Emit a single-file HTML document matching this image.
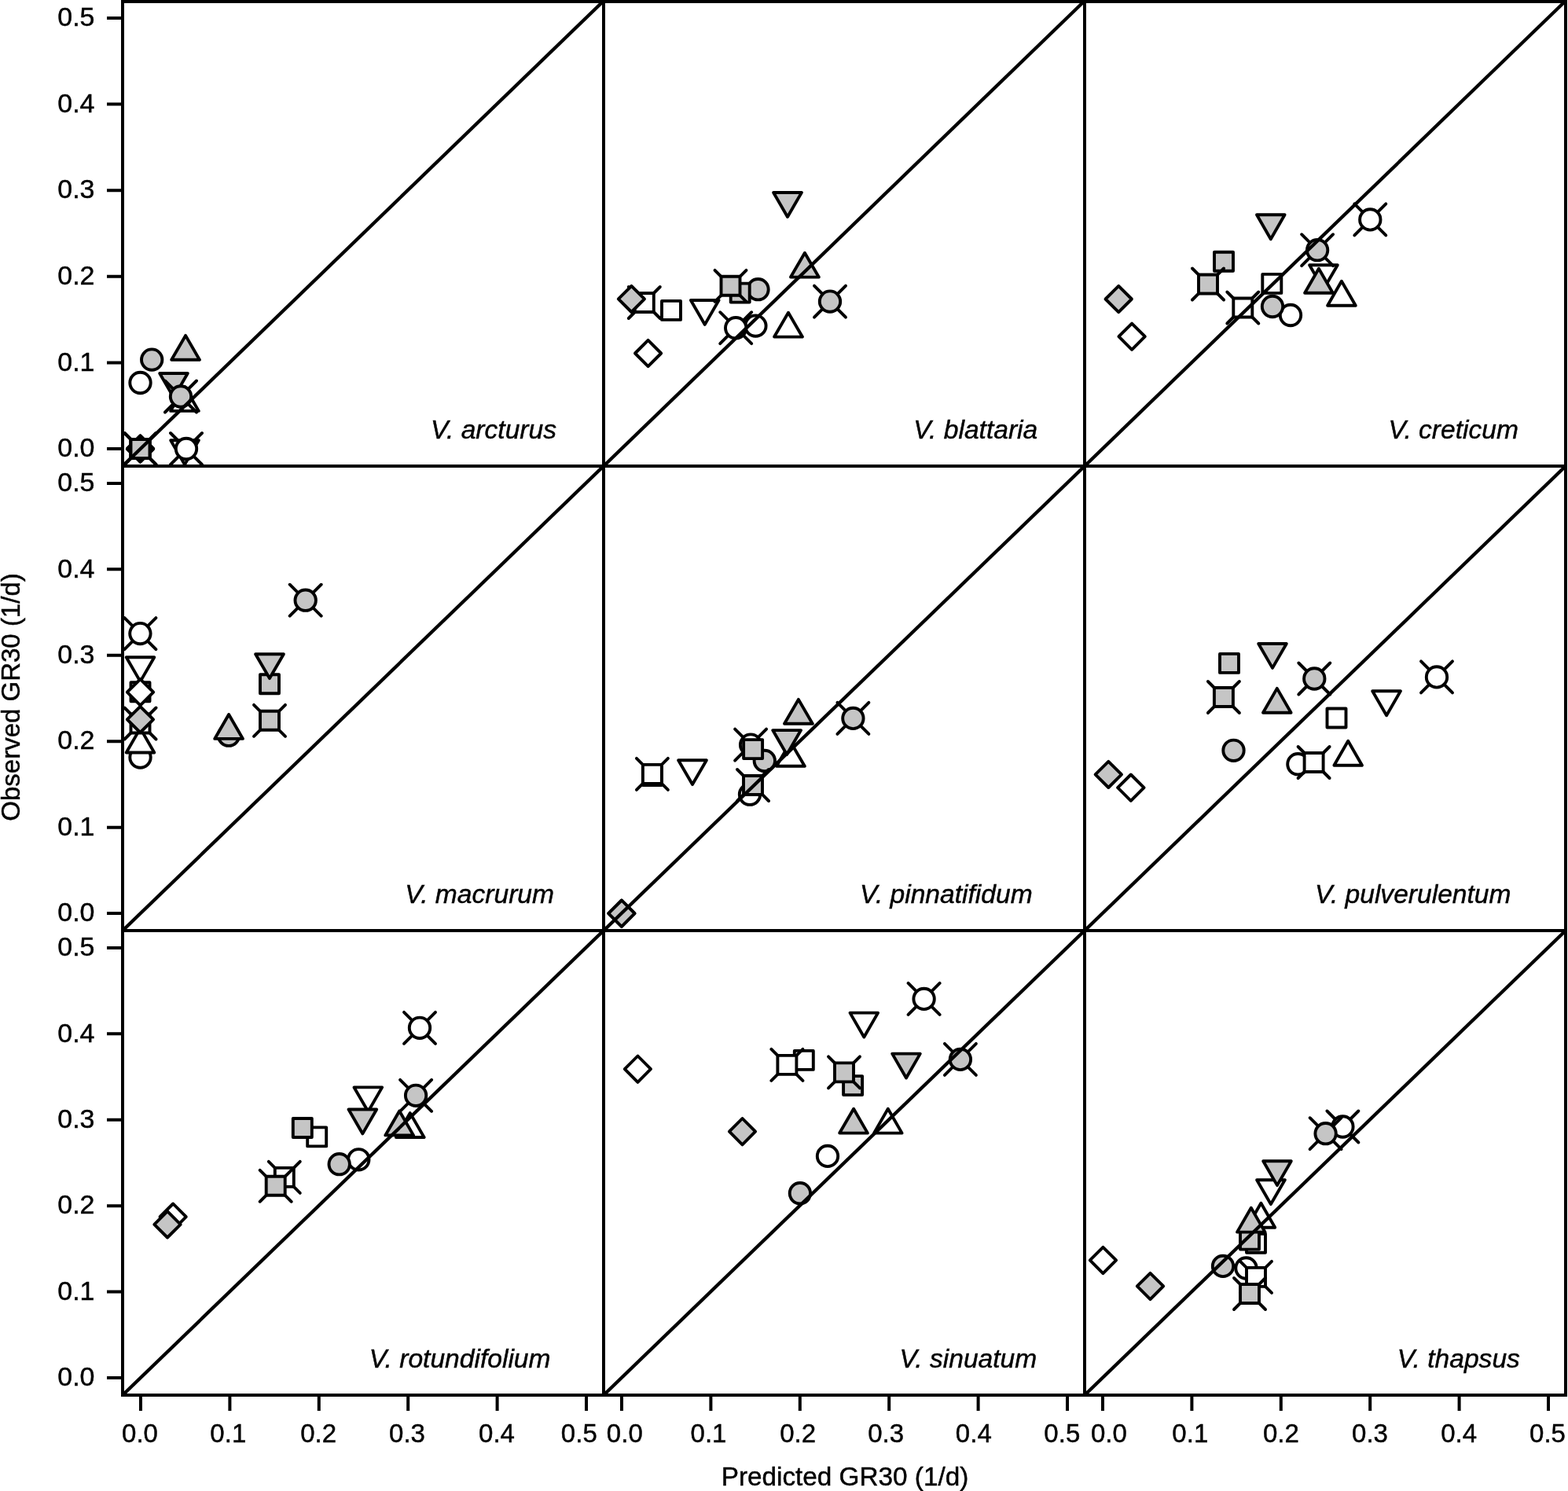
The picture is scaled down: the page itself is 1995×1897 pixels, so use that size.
<!DOCTYPE html>
<html><head><meta charset="utf-8"><title>Observed vs predicted GR30</title>
<style>
html,body{margin:0;padding:0;background:#fff;}
svg{display:block;}
.mk circle,.mk rect,.mk path{stroke:#000;stroke-width:3.9;stroke-linejoin:round;}
.mk path.x{fill:none;stroke-linecap:round;}
text{font-family:"Liberation Sans",Arial,Helvetica,sans-serif;font-size:33px;fill:#000;stroke:#000;stroke-width:0.45px;}
.sp{font-style:italic;font-size:33.6px;}
</style></head><body>
<svg width="1995" height="1897" viewBox="0 0 1995 1897">
<rect width="1995" height="1897" fill="#fff"/>
<defs>
<clipPath id="p00"><rect x="156" y="1.1" width="612" height="591.9"/></clipPath>
<clipPath id="p01"><rect x="768" y="1.1" width="612" height="591.9"/></clipPath>
<clipPath id="p02"><rect x="1380" y="1.1" width="612" height="591.9"/></clipPath>
<clipPath id="p10"><rect x="156" y="593" width="612" height="591"/></clipPath>
<clipPath id="p11"><rect x="768" y="593" width="612" height="591"/></clipPath>
<clipPath id="p12"><rect x="1380" y="593" width="612" height="591"/></clipPath>
<clipPath id="p20"><rect x="156" y="1184" width="612" height="591"/></clipPath>
<clipPath id="p21"><rect x="768" y="1184" width="612" height="591"/></clipPath>
<clipPath id="p22"><rect x="1380" y="1184" width="612" height="591"/></clipPath>
</defs>
<g clip-path="url(#p00)">
<g class="mk"><path d="M235 591.1L252.8 560.2L217.2 560.2Z" fill="#fff"/><circle cx="178.5" cy="487" r="13.2" fill="#fff"/><path d="M234.9 492L252.8 522.9L217.1 522.9Z" fill="#fff"/><path class="x" d="M217 551L257 591M217 591L257 551"/><circle cx="237" cy="571" r="13.2" fill="#fff"/><circle cx="193.2" cy="457.6" r="13.2" fill="#c5c5c5"/><rect x="166.5" y="559" width="24" height="24" fill="#fff"/><path class="x" d="M158.5 551L198.5 591M158.5 591L198.5 551"/><rect x="166.5" y="559" width="24" height="24" fill="#fff"/><path d="M178.5 554.4L195.2 571L178.5 587.6L161.8 571Z" fill="#fff"/><path d="M178.5 554.4L195.2 571L178.5 587.6L161.8 571Z" fill="#c5c5c5"/><rect x="166.5" y="559" width="24" height="24" fill="#c5c5c5"/><path class="x" d="M158.5 551L198.5 591M158.5 591L198.5 551"/><rect x="166.5" y="559" width="24" height="24" fill="#c5c5c5"/><path d="M221 505.9L238.8 475L203.2 475Z" fill="#c5c5c5"/><path d="M236.1 426.9L253.9 457.8L218.2 457.8Z" fill="#c5c5c5"/><path class="x" d="M210 484.5L250 524.5M210 524.5L250 484.5"/><circle cx="230" cy="504.5" r="13.2" fill="#c5c5c5"/></g>
<line x1="156" y1="593" x2="768" y2="1.1" stroke="#000" stroke-width="4.3"/>
</g>
<text class="sp" x="548.1" y="557.9">V. arcturus</text>
<g clip-path="url(#p01)">
<g class="mk"><path d="M896.8 412.9L914.6 382L878.9 382Z" fill="#fff"/><circle cx="961.4" cy="414.6" r="13.2" fill="#fff"/><path d="M1003 397.7L1020.9 428.6L985.1 428.6Z" fill="#fff"/><path class="x" d="M916.2 397.2L956.2 437.2M916.2 437.2L956.2 397.2"/><circle cx="936.2" cy="417.2" r="13.2" fill="#fff"/><circle cx="964.5" cy="368.2" r="13.2" fill="#c5c5c5"/><rect x="842" y="382.9" width="24" height="24" fill="#fff"/><path class="x" d="M799.8 365L839.8 405M799.8 405L839.8 365"/><rect x="807.8" y="373" width="24" height="24" fill="#fff"/><path d="M824.6 432.9L841.2 449.5L824.6 466.1L808 449.5Z" fill="#fff"/><path d="M803.4 363.8L820 380.4L803.4 397L786.8 380.4Z" fill="#c5c5c5"/><rect x="929.7" y="360.6" width="24" height="24" fill="#c5c5c5"/><path class="x" d="M909.5 343.8L949.5 383.8M909.5 383.8L949.5 343.8"/><rect x="917.5" y="351.8" width="24" height="24" fill="#c5c5c5"/><path d="M1002 275.9L1019.9 245L984.1 245Z" fill="#c5c5c5"/><path d="M1023.9 321.7L1041.8 352.6L1006 352.6Z" fill="#c5c5c5"/><path class="x" d="M1036 363.6L1076 403.6M1036 403.6L1076 363.6"/><circle cx="1056" cy="383.6" r="13.2" fill="#c5c5c5"/></g>
<line x1="768" y1="593" x2="1380" y2="1.1" stroke="#000" stroke-width="4.3"/>
</g>
<text class="sp" x="1162.2" y="558">V. blattaria</text>
<g clip-path="url(#p02)">
<g class="mk"><path d="M1683.9 368.1L1701.8 337.2L1666.1 337.2Z" fill="#fff"/><circle cx="1642" cy="401" r="13.2" fill="#fff"/><path d="M1706.9 357.8L1724.8 388.7L1689.1 388.7Z" fill="#fff"/><path class="x" d="M1723.3 259.4L1763.3 299.4M1723.3 299.4L1763.3 259.4"/><circle cx="1743.3" cy="279.4" r="13.2" fill="#fff"/><circle cx="1619" cy="390" r="13.2" fill="#c5c5c5"/><rect x="1606.3" y="348.9" width="24" height="24" fill="#fff"/><path class="x" d="M1561.3 371.5L1601.3 411.5M1561.3 411.5L1601.3 371.5"/><rect x="1569.3" y="379.5" width="24" height="24" fill="#fff"/><path d="M1440.1 411.6L1456.8 428.2L1440.1 444.8L1423.4 428.2Z" fill="#fff"/><path d="M1423.2 363.9L1439.9 380.5L1423.2 397.1L1406.5 380.5Z" fill="#c5c5c5"/><rect x="1545" y="320.7" width="24" height="24" fill="#c5c5c5"/><path class="x" d="M1517 341.5L1557 381.5M1517 381.5L1557 341.5"/><rect x="1525" y="349.5" width="24" height="24" fill="#c5c5c5"/><path d="M1616.8 304.2L1634.6 273.3L1599 273.3Z" fill="#c5c5c5"/><path d="M1677.9 341.8L1695.8 372.7L1660.1 372.7Z" fill="#c5c5c5"/><path class="x" d="M1656.1 298.2L1696.1 338.2M1656.1 338.2L1696.1 298.2"/><circle cx="1676.1" cy="318.2" r="13.2" fill="#c5c5c5"/></g>
<line x1="1380" y1="593" x2="1992" y2="1.1" stroke="#000" stroke-width="4.3"/>
</g>
<text class="sp" x="1766.5" y="557.7">V. creticum</text>
<g clip-path="url(#p10)">
<g class="mk"><path d="M178.5 867.1L196.3 836.2L160.7 836.2Z" fill="#fff"/><circle cx="178.5" cy="963.5" r="13.2" fill="#fff"/><path d="M178.5 926.6L196.3 957.5L160.7 957.5Z" fill="#fff"/><path class="x" d="M158.4 786.1L198.4 826.1M158.4 826.1L198.4 786.1"/><circle cx="178.4" cy="806.1" r="13.2" fill="#fff"/><circle cx="291" cy="935.7" r="13.2" fill="#c5c5c5"/><rect x="166.5" y="868.2" width="24" height="24" fill="#fff"/><path class="x" d="M158.5 900.5L198.5 940.5M158.5 940.5L198.5 900.5"/><rect x="166.5" y="908.5" width="24" height="24" fill="#fff"/><path d="M178.5 864.1L195.2 880.7L178.5 897.4L161.8 880.7Z" fill="#fff"/><path d="M178.4 898.8L195.1 915.4L178.4 932L161.8 915.4Z" fill="#c5c5c5"/><rect x="331" y="858.2" width="24" height="24" fill="#c5c5c5"/><path class="x" d="M323 896.8L363 936.8M323 936.8L363 896.8"/><rect x="331" y="904.8" width="24" height="24" fill="#c5c5c5"/><path d="M343 863.1L360.9 832.2L325.1 832.2Z" fill="#c5c5c5"/><path d="M291.1 909L309 939.9L273.2 939.9Z" fill="#c5c5c5"/><path class="x" d="M368.7 743.7L408.7 783.7M368.7 783.7L408.7 743.7"/><circle cx="388.7" cy="763.7" r="13.2" fill="#c5c5c5"/></g>
<line x1="156" y1="1184" x2="768" y2="593" stroke="#000" stroke-width="4.3"/>
</g>
<text class="sp" x="515.3" y="1148.8">V. macrurum</text>
<g clip-path="url(#p11)">
<g class="mk"><path d="M881 998.1L898.9 967.2L863.1 967.2Z" fill="#fff"/><circle cx="954" cy="1010.7" r="13.2" fill="#fff"/><path d="M1005.9 943.9L1023.8 974.8L988 974.8Z" fill="#fff"/><path class="x" d="M935.1 927.6L975.1 967.6M935.1 967.6L975.1 927.6"/><circle cx="955.1" cy="947.6" r="13.2" fill="#fff"/><circle cx="972.8" cy="968" r="13.2" fill="#c5c5c5"/><rect x="817.9" y="975.1" width="24" height="24" fill="#fff"/><path class="x" d="M809.9 964.9L849.9 1004.9M809.9 1004.9L849.9 964.9"/><rect x="817.9" y="972.9" width="24" height="24" fill="#fff"/><path d="M790.9 1145.5L807.5 1162.2L790.9 1178.9L774.2 1162.2Z" fill="#fff"/><path d="M790.9 1145.5L807.5 1162.2L790.9 1178.9L774.2 1162.2Z" fill="#c5c5c5"/><rect x="946.1" y="941.1" width="24" height="24" fill="#c5c5c5"/><path class="x" d="M938 979L978 1019M938 1019L978 979"/><rect x="946" y="987" width="24" height="24" fill="#c5c5c5"/><path d="M1001.1 960L1019 929.1L983.2 929.1Z" fill="#c5c5c5"/><path d="M1015.9 889.9L1033.8 920.8L998 920.8Z" fill="#c5c5c5"/><path class="x" d="M1065.4 893.9L1105.4 933.9M1065.4 933.9L1105.4 893.9"/><circle cx="1085.4" cy="913.9" r="13.2" fill="#c5c5c5"/></g>
<line x1="768" y1="1184" x2="1380" y2="593" stroke="#000" stroke-width="4.3"/>
</g>
<text class="sp" x="1094" y="1148.8">V. pinnatifidum</text>
<g clip-path="url(#p12)">
<g class="mk"><path d="M1764.1 910.2L1781.9 879.3L1746.2 879.3Z" fill="#fff"/><circle cx="1651.4" cy="972.2" r="13.2" fill="#fff"/><path d="M1715.2 942.8L1733 973.7L1697.4 973.7Z" fill="#fff"/><path class="x" d="M1808 841.4L1848 881.4M1808 881.4L1848 841.4"/><circle cx="1828" cy="861.4" r="13.2" fill="#fff"/><circle cx="1569.5" cy="954.8" r="13.2" fill="#c5c5c5"/><rect x="1688.5" y="901.5" width="24" height="24" fill="#fff"/><path class="x" d="M1651.6 950L1691.6 990M1651.6 990L1691.6 950"/><rect x="1659.6" y="958" width="24" height="24" fill="#fff"/><path d="M1438.8 985.5L1455.5 1002.1L1438.8 1018.8L1422.1 1002.1Z" fill="#fff"/><path d="M1410.3 968.8L1427 985.4L1410.3 1002L1393.6 985.4Z" fill="#c5c5c5"/><rect x="1552" y="831.9" width="24" height="24" fill="#c5c5c5"/><path class="x" d="M1536.9 867L1576.9 907M1536.9 907L1576.9 867"/><rect x="1544.9" y="875" width="24" height="24" fill="#c5c5c5"/><path d="M1619 849.9L1636.8 819L1601.2 819Z" fill="#c5c5c5"/><path d="M1624.8 875.9L1642.6 906.8L1607 906.8Z" fill="#c5c5c5"/><path class="x" d="M1652.3 843.5L1692.3 883.5M1652.3 883.5L1692.3 843.5"/><circle cx="1672.3" cy="863.5" r="13.2" fill="#c5c5c5"/></g>
<line x1="1380" y1="1184" x2="1992" y2="593" stroke="#000" stroke-width="4.3"/>
</g>
<text class="sp" x="1673" y="1148.8">V. pulverulentum</text>
<g clip-path="url(#p20)">
<g class="mk"><path d="M468.4 1414.3L486.2 1383.4L450.5 1383.4Z" fill="#fff"/><circle cx="456.3" cy="1475.3" r="13.2" fill="#fff"/><path d="M521.8 1416.1L539.6 1447L503.9 1447Z" fill="#fff"/><path class="x" d="M514 1287.8L554 1327.8M514 1327.8L554 1287.8"/><circle cx="534" cy="1307.8" r="13.2" fill="#fff"/><circle cx="431.7" cy="1481.2" r="13.2" fill="#c5c5c5"/><rect x="391.2" y="1434.4" width="24" height="24" fill="#fff"/><path class="x" d="M341.8 1477.9L381.8 1517.9M341.8 1517.9L381.8 1477.9"/><rect x="349.8" y="1485.9" width="24" height="24" fill="#fff"/><path d="M220.2 1531.5L236.8 1548.2L220.2 1564.9L203.5 1548.2Z" fill="#fff"/><path d="M213 1541.1L229.7 1557.8L213 1574.5L196.3 1557.8Z" fill="#c5c5c5"/><rect x="372.8" y="1423" width="24" height="24" fill="#c5c5c5"/><path class="x" d="M330.7 1488.8L370.7 1528.8M330.7 1528.8L370.7 1488.8"/><rect x="338.7" y="1496.8" width="24" height="24" fill="#c5c5c5"/><path d="M461.4 1442.4L479.2 1411.5L443.5 1411.5Z" fill="#c5c5c5"/><path d="M508.2 1413.5L526 1444.4L490.3 1444.4Z" fill="#c5c5c5"/><path class="x" d="M509.1 1373.8L549.1 1413.8M509.1 1413.8L549.1 1373.8"/><circle cx="529.1" cy="1393.8" r="13.2" fill="#c5c5c5"/></g>
<line x1="156" y1="1775" x2="768" y2="1184" stroke="#000" stroke-width="4.3"/>
</g>
<text class="sp" x="469.7" y="1739.8">V. rotundifolium</text>
<g clip-path="url(#p21)">
<g class="mk"><path d="M1099.3 1319.5L1117.1 1288.6L1081.5 1288.6Z" fill="#fff"/><circle cx="1053" cy="1470.9" r="13.2" fill="#fff"/><path d="M1129.8 1410.7L1147.6 1441.6L1112 1441.6Z" fill="#fff"/><path class="x" d="M1155.6 1250.9L1195.6 1290.9M1155.6 1290.9L1195.6 1250.9"/><circle cx="1175.6" cy="1270.9" r="13.2" fill="#fff"/><circle cx="1017.9" cy="1518.2" r="13.2" fill="#c5c5c5"/><rect x="1010.8" y="1336.9" width="24" height="24" fill="#fff"/><path class="x" d="M981.4 1334.9L1021.4 1374.9M981.4 1374.9L1021.4 1334.9"/><rect x="989.4" y="1342.9" width="24" height="24" fill="#fff"/><path d="M811.4 1343.5L828 1360.2L811.4 1376.9L794.8 1360.2Z" fill="#fff"/><path d="M944.5 1423L961.1 1439.7L944.5 1456.4L927.9 1439.7Z" fill="#c5c5c5"/><rect x="1073.1" y="1369.1" width="24" height="24" fill="#c5c5c5"/><path class="x" d="M1054 1344.4L1094 1384.4M1054 1384.4L1094 1344.4"/><rect x="1062" y="1352.4" width="24" height="24" fill="#c5c5c5"/><path d="M1153 1371.5L1170.8 1340.6L1135.2 1340.6Z" fill="#c5c5c5"/><path d="M1086.1 1410.7L1103.9 1441.6L1068.2 1441.6Z" fill="#c5c5c5"/><path class="x" d="M1201.9 1327.9L1241.9 1367.9M1201.9 1367.9L1241.9 1327.9"/><circle cx="1221.9" cy="1347.9" r="13.2" fill="#c5c5c5"/></g>
<line x1="768" y1="1775" x2="1380" y2="1184" stroke="#000" stroke-width="4.3"/>
</g>
<text class="sp" x="1144.4" y="1739.8">V. sinuatum</text>
<g clip-path="url(#p22)">
<g class="mk"><path d="M1616.9 1532.1L1634.8 1501.2L1599.1 1501.2Z" fill="#fff"/><circle cx="1585.5" cy="1613.5" r="13.2" fill="#fff"/><path d="M1604.4 1530.8L1622.2 1561.7L1586.6 1561.7Z" fill="#fff"/><path class="x" d="M1688.4 1413.5L1728.4 1453.5M1688.4 1453.5L1728.4 1413.5"/><circle cx="1708.4" cy="1433.5" r="13.2" fill="#fff"/><circle cx="1556" cy="1610.9" r="13.2" fill="#c5c5c5"/><rect x="1586" y="1569.7" width="24" height="24" fill="#fff"/><path class="x" d="M1578 1604.9L1618 1644.9M1578 1644.9L1618 1604.9"/><rect x="1586" y="1612.9" width="24" height="24" fill="#fff"/><path d="M1403.4 1586.8L1420.1 1603.4L1403.4 1620.1L1386.8 1603.4Z" fill="#fff"/><path d="M1463.5 1619.8L1480.2 1636.4L1463.5 1653.1L1446.8 1636.4Z" fill="#c5c5c5"/><rect x="1578" y="1565.6" width="24" height="24" fill="#c5c5c5"/><path class="x" d="M1570 1626L1610 1666M1570 1666L1610 1626"/><rect x="1578" y="1634" width="24" height="24" fill="#c5c5c5"/><path d="M1625 1508.1L1642.8 1477.2L1607.2 1477.2Z" fill="#c5c5c5"/><path d="M1591.8 1536.7L1609.6 1567.6L1574 1567.6Z" fill="#c5c5c5"/><path class="x" d="M1666.6 1422.2L1706.6 1462.2M1666.6 1462.2L1706.6 1422.2"/><circle cx="1686.6" cy="1442.2" r="13.2" fill="#c5c5c5"/></g>
<line x1="1380" y1="1775" x2="1992" y2="1184" stroke="#000" stroke-width="4.3"/>
</g>
<text class="sp" x="1777.7" y="1739.6">V. thapsus</text>
<g fill="none" stroke="#000" stroke-width="4">
<rect x="156" y="1.1" width="612" height="591.9"/>
<rect x="768" y="1.1" width="612" height="591.9"/>
<rect x="1380" y="1.1" width="612" height="591.9"/>
<rect x="156" y="593" width="612" height="591"/>
<rect x="768" y="593" width="612" height="591"/>
<rect x="1380" y="593" width="612" height="591"/>
<rect x="156" y="1184" width="612" height="591"/>
<rect x="768" y="1184" width="612" height="591"/>
<rect x="1380" y="1184" width="612" height="591"/>
</g>
<rect x="154" y="0" width="1840" height="4" fill="#000"/>
<path d="M136 571H156M136 461.4H156M136 351.8H156M136 242.2H156M136 132.6H156M136 23H156M136 1162.1H156M136 1052.7H156M136 943.2H156M136 833.8H156M136 724.3H156M136 614.9H156M136 1753H156M136 1643.6H156M136 1534.2H156M136 1424.7H156M136 1315.3H156M136 1205.9H156M179 1775V1795M292.4 1775V1795M405.8 1775V1795M519.2 1775V1795M632.6 1775V1795M746 1775V1795M791 1775V1795M904.4 1775V1795M1017.8 1775V1795M1131.2 1775V1795M1244.6 1775V1795M1358 1775V1795M1403 1775V1795M1516.4 1775V1795M1629.8 1775V1795M1743.2 1775V1795M1856.6 1775V1795M1970 1775V1795" stroke="#000" stroke-width="4" fill="none"/>
<text x="120.5" y="581.2" text-anchor="end" textLength="47.2" lengthAdjust="spacingAndGlyphs">0.0</text>
<text x="120.5" y="471.6" text-anchor="end" textLength="47.2" lengthAdjust="spacingAndGlyphs">0.1</text>
<text x="120.5" y="362" text-anchor="end" textLength="47.2" lengthAdjust="spacingAndGlyphs">0.2</text>
<text x="120.5" y="252.4" text-anchor="end" textLength="47.2" lengthAdjust="spacingAndGlyphs">0.3</text>
<text x="120.5" y="142.8" text-anchor="end" textLength="47.2" lengthAdjust="spacingAndGlyphs">0.4</text>
<text x="120.5" y="33.2" text-anchor="end" textLength="47.2" lengthAdjust="spacingAndGlyphs">0.5</text>
<text x="120.5" y="1172.3" text-anchor="end" textLength="47.2" lengthAdjust="spacingAndGlyphs">0.0</text>
<text x="120.5" y="1062.9" text-anchor="end" textLength="47.2" lengthAdjust="spacingAndGlyphs">0.1</text>
<text x="120.5" y="953.4" text-anchor="end" textLength="47.2" lengthAdjust="spacingAndGlyphs">0.2</text>
<text x="120.5" y="844" text-anchor="end" textLength="47.2" lengthAdjust="spacingAndGlyphs">0.3</text>
<text x="120.5" y="734.5" text-anchor="end" textLength="47.2" lengthAdjust="spacingAndGlyphs">0.4</text>
<text x="120.5" y="625.1" text-anchor="end" textLength="47.2" lengthAdjust="spacingAndGlyphs">0.5</text>
<text x="120.5" y="1763.2" text-anchor="end" textLength="47.2" lengthAdjust="spacingAndGlyphs">0.0</text>
<text x="120.5" y="1653.8" text-anchor="end" textLength="47.2" lengthAdjust="spacingAndGlyphs">0.1</text>
<text x="120.5" y="1544.4" text-anchor="end" textLength="47.2" lengthAdjust="spacingAndGlyphs">0.2</text>
<text x="120.5" y="1434.9" text-anchor="end" textLength="47.2" lengthAdjust="spacingAndGlyphs">0.3</text>
<text x="120.5" y="1325.5" text-anchor="end" textLength="47.2" lengthAdjust="spacingAndGlyphs">0.4</text>
<text x="120.5" y="1216.1" text-anchor="end" textLength="47.2" lengthAdjust="spacingAndGlyphs">0.5</text>
<text x="178" y="1835" text-anchor="middle">0.0</text>
<text x="290.3" y="1835" text-anchor="middle">0.1</text>
<text x="405.2" y="1835" text-anchor="middle">0.2</text>
<text x="518" y="1835" text-anchor="middle">0.3</text>
<text x="632" y="1835" text-anchor="middle">0.4</text>
<text x="736.8" y="1835" text-anchor="middle">0.5</text>
<text x="794.8" y="1835" text-anchor="middle">0.0</text>
<text x="901.5" y="1835" text-anchor="middle">0.1</text>
<text x="1015.2" y="1835" text-anchor="middle">0.2</text>
<text x="1127.2" y="1835" text-anchor="middle">0.3</text>
<text x="1238.8" y="1835" text-anchor="middle">0.4</text>
<text x="1351.3" y="1835" text-anchor="middle">0.5</text>
<text x="1410.9" y="1835" text-anchor="middle">0.0</text>
<text x="1514.3" y="1835" text-anchor="middle">0.1</text>
<text x="1629.9" y="1835" text-anchor="middle">0.2</text>
<text x="1743" y="1835" text-anchor="middle">0.3</text>
<text x="1856.2" y="1835" text-anchor="middle">0.4</text>
<text x="1969" y="1835" text-anchor="middle">0.5</text>
<text x="1075" y="1890" text-anchor="middle" style="font-size:33.3px">Predicted GR30 (1/d)</text>
<text transform="translate(25 887) rotate(-90)" text-anchor="middle">Observed GR30 (1/d)</text>
</svg>
</body></html>
